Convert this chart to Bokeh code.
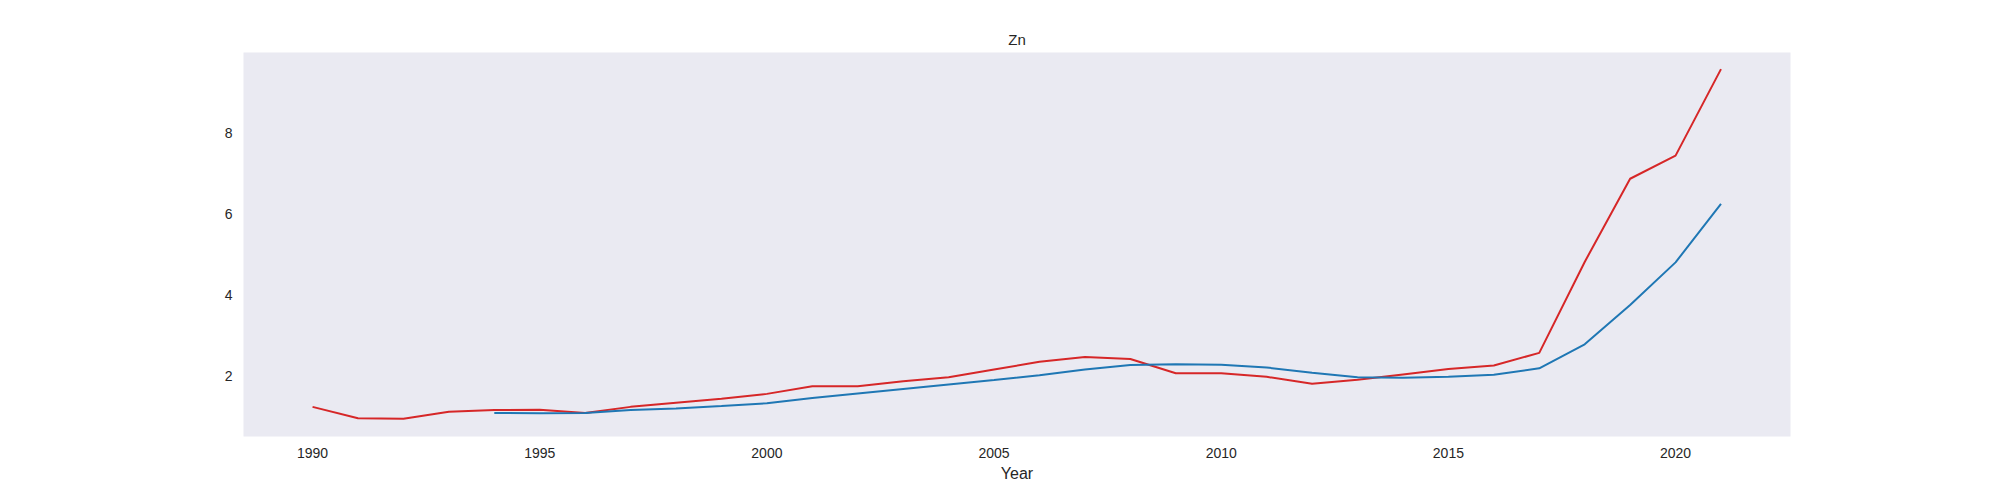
from bokeh.plotting import figure
from bokeh.models import Range1d, FixedTicker
from bokeh.embed import file_html
from bokeh.resources import INLINE

years_red = list(range(1990, 2022))
zn_red = [1.25, 0.97, 0.96, 1.13, 1.17, 1.18, 1.10, 1.25, 1.35, 1.45, 1.57, 1.76,
          1.76, 1.88, 1.98, 2.17, 2.36, 2.48, 2.43, 2.08, 2.08, 1.99, 1.82, 1.92,
          2.05, 2.18, 2.27, 2.58, 4.82, 6.87, 7.44, 9.57]
years_blue = list(range(1994, 2022))
zn_blue = [1.10, 1.09, 1.10, 1.17, 1.21, 1.27, 1.34, 1.47, 1.58, 1.69, 1.80, 1.91,
           2.03, 2.17, 2.28, 2.30, 2.29, 2.22, 2.09, 1.98, 1.97, 1.99, 2.04, 2.20,
           2.79, 3.76, 4.81, 6.25]
x_ticks = [1990, 1995, 2000, 2005, 2010, 2015, 2020]
y_ticks = [2, 4, 6, 8]

p = figure(width=1984, height=484, output_backend="svg", toolbar_location=None,
           title="Zn", x_range=Range1d(1988.48, 2022.53), y_range=Range1d(0.52, 9.98),
           min_border_left=243, min_border_right=194, min_border_top=52, min_border_bottom=48)
p.title.align = "center"
p.title.text_font = "Liberation Sans"
p.title.text_font_style = "normal"
p.title.text_font_size = "15px"
p.title.text_color = "#262626"
p.background_fill_color = "#eaeaf2"
p.outline_line_color = None
p.grid.grid_line_color = None

for ax in (p.xaxis, p.yaxis):
    ax.axis_line_color = None
    ax.major_tick_line_color = None
    ax.minor_tick_line_color = None
    ax.major_label_text_font = "Liberation Sans"
    ax.major_label_text_font_size = "14px"
    ax.major_label_text_color = "#262626"
p.xaxis.ticker = FixedTicker(ticks=x_ticks)
p.yaxis.ticker = FixedTicker(ticks=y_ticks)
p.xaxis.axis_label = "Year"
p.xaxis.axis_label_text_font = "Liberation Sans"
p.xaxis.axis_label_text_font_style = "normal"
p.xaxis.axis_label_text_font_size = "16px"
p.xaxis.axis_label_text_color = "#262626"
p.xaxis.axis_label_standoff = 4

p.line(years_red, zn_red, line_color="#d62728", line_width=2)
p.line(years_blue, zn_blue, line_color="#1f77b4", line_width=2)

open("out.html", "w").write(file_html(p, INLINE))
